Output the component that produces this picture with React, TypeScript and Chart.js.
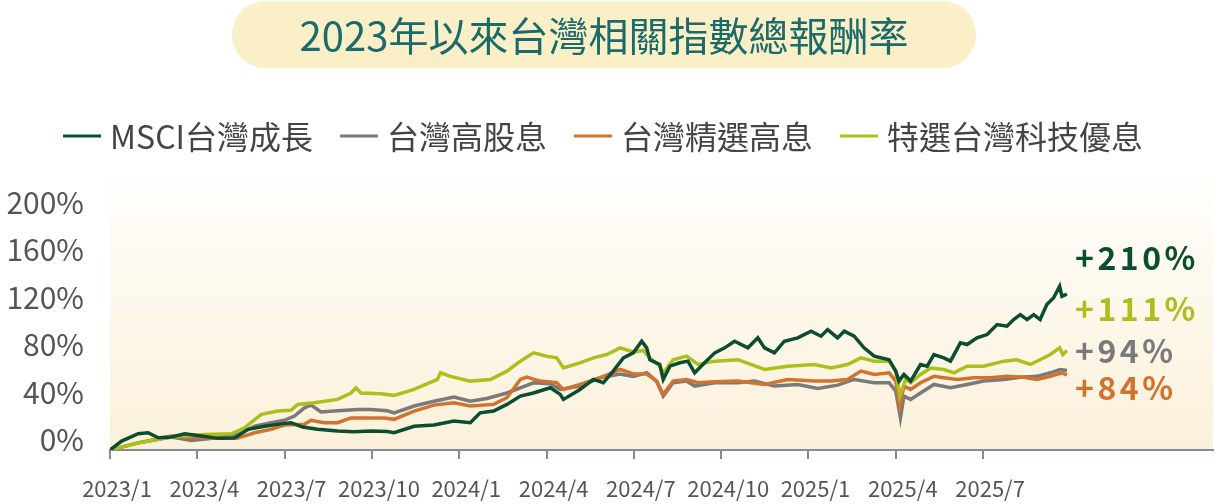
import React, { useEffect, useRef } from 'react';
import { Chart, registerables } from 'chart.js';

Chart.register(...registerables);

const titleText = '2023年以來台灣相關指數總報酬率';
const seriesNames = ['MSCI台灣成長', '台灣高股息', '台灣精選高息', '特選台灣科技優息'];
const seriesColors = ['#0a4d33', '#7a7a7a', '#d3722f', '#adbf1c'];
const endLabels = ['+210%', '+111%', '+94%', '+84%'];
const endLabelColors = ['#0a4d33', '#adbf1c', '#7a7a7a', '#d3722f'];
const xTickValues = [0, 3, 6, 9, 12, 15, 18, 21, 24, 27, 30];
const xTickLabels = ['2023/1', '2023/4', '2023/7', '2023/10', '2024/1', '2024/4', '2024/7', '2024/10', '2025/1', '2025/4', '2025/7'];
const yTickValues = [0, 40, 80, 120, 160, 200];

// [months since 2023/1, cumulative return %]
const msciGrowth: [number, number][] = [
  [0, 0], [0.4, 7.5], [0.97, 13.7], [1.31, 14.5], [1.66, 10.3], [2.11, 11], [2.57, 13.7], [3.14, 11.8],
  [3.71, 9.8], [4.28, 10], [4.74, 17.4], [5.31, 20], [5.88, 22], [6.22, 23], [6.62, 19.3], [7.13, 17.4],
  [7.82, 16], [8.39, 15.4], [8.96, 16], [9.53, 15.5], [9.76, 14.5], [10.45, 20], [11.13, 21], [11.82, 24.4],
  [12.38, 23], [12.72, 31.3], [13.18, 32.8], [13.64, 38.4], [14.1, 45.4], [14.55, 48], [15.13, 52.4],
  [15.47, 46.8], [15.58, 42.6], [16.15, 51], [16.61, 59.4], [16.95, 56.6], [17.29, 66.4], [17.64, 77.6],
  [17.98, 81.8], [18.27, 91.6], [18.44, 86], [18.55, 76], [18.89, 72], [19.01, 59.4], [19.24, 70.6],
  [19.58, 73.4], [19.86, 74.8], [20.09, 65], [20.43, 73.4], [20.78, 81.8], [21.12, 86], [21.46, 91.6],
  [21.92, 86], [22.26, 94.4], [22.49, 86], [22.83, 81.8], [23.17, 91.6], [23.63, 94.4], [24.09, 100],
  [24.43, 95.8], [24.66, 101.4], [25.0, 94.4], [25.23, 100], [25.57, 95.8], [25.91, 86], [26.26, 79],
  [26.77, 76], [27.0, 66.4], [27.11, 58], [27.28, 63.6], [27.51, 58], [27.85, 72], [28.08, 70.6],
  [28.31, 80.4], [28.65, 77.6], [28.88, 74.8], [29.22, 90.2], [29.45, 88.8], [29.79, 94.4], [30.14, 97.2],
  [30.48, 105.6], [30.82, 104.2], [31.05, 109.8], [31.28, 114], [31.51, 109.8], [31.74, 114], [31.96, 109.8],
  [32.19, 122.4], [32.42, 128], [32.63, 137.8], [32.71, 129.4], [32.88, 131.3],
];

const highDividend: [number, number][] = [
  [0, 0], [0.97, 6], [2.11, 11], [2.8, 8], [3.6, 10], [4.4, 13], [4.97, 20], [5.54, 23], [5.99, 25],
  [6.34, 28.6], [6.68, 35.5], [6.91, 37.8], [7.25, 32], [7.82, 33], [8.5, 34], [8.96, 34], [9.53, 33],
  [9.76, 31.3], [10.45, 37], [11.13, 41], [11.82, 44.5], [12.38, 41], [12.95, 43.4], [13.64, 48],
  [14.1, 52.4], [14.55, 56.6], [15.13, 55.7], [15.47, 51], [16.15, 53.8], [16.84, 60.8], [17.53, 64],
  [17.98, 62], [18.44, 65], [18.78, 58], [19.01, 45.4], [19.35, 56.6], [19.81, 58], [20.09, 53.8],
  [20.78, 56.6], [21.58, 56.6], [22.15, 58], [22.83, 53.8], [23.63, 55.2], [24.32, 51.8], [25.0, 54.6],
  [25.57, 59.4], [26.26, 56.6], [26.77, 56.6], [27.0, 49.6], [27.16, 27], [27.28, 45.4], [27.51, 42.6],
  [27.85, 48], [28.31, 55.2], [28.88, 52.4], [29.45, 55.2], [30.02, 58], [30.71, 59.4], [31.28, 61.3],
  [31.85, 62], [32.31, 65], [32.65, 67.8], [32.88, 67],
];

const selectDividend: [number, number][] = [
  [0, 0], [0.97, 6], [2.11, 11.8], [2.8, 10.3], [3.6, 10], [4.4, 10], [4.97, 14.5], [5.54, 17.4],
  [5.99, 21], [6.68, 21.6], [6.91, 25], [7.36, 23], [7.82, 23], [8.28, 27], [8.73, 27], [9.42, 27],
  [9.76, 25.8], [10.45, 32.8], [11.13, 37.8], [11.82, 39.7], [12.38, 37], [13.18, 38.4], [13.64, 44],
  [14.1, 59.4], [14.32, 61.3], [14.78, 58], [15.35, 56.6], [15.58, 51], [16.15, 55.2], [16.84, 60.8],
  [17.53, 67.8], [17.98, 64], [18.44, 64], [18.78, 58], [19.01, 46.8], [19.35, 58], [19.81, 59.4],
  [20.21, 56.6], [20.78, 57.4], [21.58, 58], [22.49, 55.2], [23.29, 59.4], [24.2, 58], [24.77, 58],
  [25.34, 59.4], [25.8, 66.4], [26.26, 63.6], [26.77, 65], [27.0, 58], [27.14, 37], [27.28, 53.8],
  [27.51, 51], [27.85, 56.6], [28.31, 62], [28.65, 60.8], [29.11, 59.4], [29.68, 60.8], [30.25, 60.8],
  [30.82, 62], [31.39, 61.3], [31.85, 59.4], [32.31, 62], [32.71, 65], [32.88, 63],
];

const techDividend: [number, number][] = [
  [0, 0], [0.97, 6], [2.11, 11], [3.25, 13], [4.17, 13.7], [4.62, 18.7], [5.2, 30], [5.76, 32.8],
  [6.22, 33.4], [6.45, 38.4], [7.02, 39.7], [7.82, 42.6], [8.28, 48], [8.45, 52.4], [8.62, 48], [9.3, 47.3],
  [9.76, 46], [10.45, 51], [11.25, 59.4], [11.36, 65], [11.7, 62], [12.38, 58], [13.07, 59.4], [13.64, 66.4],
  [14.1, 74.8], [14.55, 81.8], [15.01, 79], [15.35, 77.6], [15.58, 69], [16.15, 73.4], [16.61, 77.6],
  [17.07, 80.4], [17.53, 86], [17.98, 82.6], [18.32, 83.8], [18.55, 77.6], [18.89, 70.6], [19.01, 65],
  [19.35, 76], [19.81, 79], [20.21, 72], [20.78, 74.8], [21.58, 76], [22.49, 67.8], [23.29, 70.6],
  [24.2, 72], [24.77, 69], [25.34, 72], [25.8, 77.6], [26.26, 74.8], [26.77, 74.8], [27.0, 66.4],
  [27.14, 45.4], [27.34, 59.4], [27.51, 56.6], [27.85, 63.6], [28.2, 69], [28.65, 67.8], [29.0, 65],
  [29.45, 70.6], [30.02, 70.6], [30.71, 74.8], [31.16, 76], [31.62, 72], [31.96, 76], [32.31, 80.4],
  [32.63, 86], [32.74, 80.4], [32.88, 83.8],
];

const seriesData = [msciGrowth, highDividend, selectDividend, techDividend];
const drawOrder = [0, 3, 2, 1];

const FONT = '"Noto Sans CJK TC", "Noto Sans", sans-serif';

const decorPlugin = {
  id: 'decor',
  beforeDraw(chart: any) {
    const ctx: CanvasRenderingContext2D = chart.ctx;
    const { left, right, top, bottom } = chart.chartArea;
    ctx.save();
    // plot background gradient
    const g = ctx.createLinearGradient(0, top, 0, bottom);
    g.addColorStop(0, '#fffefb');
    g.addColorStop(1, '#fbf1da');
    ctx.fillStyle = g;
    ctx.fillRect(left, top, right - left, bottom - top);

    // title pill
    const px = 232, py = 1, pw = 744, ph = 67, r = ph / 2;
    ctx.beginPath();
    ctx.moveTo(px + r, py);
    ctx.lineTo(px + pw - r, py);
    ctx.arc(px + pw - r, py + r, r, -Math.PI / 2, Math.PI / 2);
    ctx.lineTo(px + r, py + ph);
    ctx.arc(px + r, py + r, r, Math.PI / 2, (3 * Math.PI) / 2);
    ctx.closePath();
    ctx.fillStyle = '#faefc7';
    ctx.fill();
    ctx.fillStyle = '#1b6b6b';
    ctx.font = `40px ${FONT}`;
    ctx.textAlign = 'center';
    ctx.textBaseline = 'middle';
    ctx.fillText(titleText, px + pw / 2, 36);

    // legend
    ctx.font = `32px ${FONT}`;
    ctx.textAlign = 'left';
    const lineW = 38, gapLT = 9, gapItem = 27;
    const widths = seriesNames.map((n) => ctx.measureText(n).width);
    const total = widths.reduce((a, w) => a + lineW + gapLT + w, 0) + gapItem * (seriesNames.length - 1);
    let x = 603 - total / 2;
    const ly = 136;
    seriesNames.forEach((n, i) => {
      ctx.fillStyle = seriesColors[i];
      ctx.fillRect(x, ly - 1.5, lineW, 3);
      x += lineW + gapLT;
      ctx.fillStyle = '#444';
      ctx.fillText(n, x, ly + 1);
      x += widths[i] + gapItem;
    });
    ctx.restore();
  },
  afterDraw(chart: any) {
    const ctx: CanvasRenderingContext2D = chart.ctx;
    ctx.save();
    ctx.font = `bold 32px ${FONT}`;
    (ctx as any).letterSpacing = '3.5px';
    ctx.textAlign = 'left';
    ctx.textBaseline = 'middle';
    const ys = [258, 309, 351, 388];
    endLabels.forEach((t, i) => {
      ctx.fillStyle = endLabelColors[i];
      ctx.fillText(t, 1075, ys[i]);
    });
    ctx.restore();
  },
};

export default function App() {
  const ref = useRef<HTMLCanvasElement | null>(null);
  useEffect(() => {
    document.body.style.margin = '0';
    if (!ref.current) return;
    const chart = new Chart(ref.current, {
      type: 'line',
      data: {
        datasets: seriesNames.map((name, i) => ({
          label: name,
          data: seriesData[i].map(([x, y]) => ({ x, y })),
          borderColor: seriesColors[i],
          backgroundColor: seriesColors[i],
          borderWidth: 3.5,
          pointRadius: 0,
          tension: 0,
          order: drawOrder[i],
        })),
      },
      options: {
        animation: false,
        responsive: true,
        maintainAspectRatio: false,
        layout: { padding: { top: 178, right: 2, left: 0, bottom: 0 } },
        plugins: { legend: { display: false }, title: { display: false }, tooltip: { enabled: false } },
        scales: {
          x: {
            type: 'linear',
            min: 0,
            max: 37.9,
            afterBuildTicks: (s: any) => {
              s.ticks = xTickValues.map((v) => ({ value: v }));
            },
            afterFit: (s: any) => {
              s.height = 54;
            },
            ticks: {
              autoSkip: false,
              maxRotation: 0,
              labelOffset: 7,
              padding: 16,
              color: '#555',
              font: { family: FONT, size: 22 },
              callback: (_v: any, idx: number) => xTickLabels[idx],
            },
            grid: { display: true, drawOnChartArea: false, drawTicks: true, tickLength: 9, color: '#8a8a8a', lineWidth: 2 },
            border: { display: true, color: '#8a8a8a', width: 2 },
          },
          y: {
            min: 0,
            max: 229,
            afterBuildTicks: (s: any) => {
              s.ticks = yTickValues.map((v) => ({ value: v }));
            },
            afterFit: (s: any) => {
              s.width = 110;
            },
            ticks: {
              labelOffset: -10,
              padding: 26,
              color: '#555',
              font: { family: FONT, size: 30 },
              callback: (v: any) => `${v}%`,
            },
            grid: { display: false, drawTicks: false },
            border: { display: false },
          },
        },
      },
      plugins: [decorPlugin],
    });
    return () => chart.destroy();
  }, []);
  return (
    <div style={{ width: 1215, height: 504, position: 'relative' }}>
      <canvas ref={ref} />
    </div>
  );
}
